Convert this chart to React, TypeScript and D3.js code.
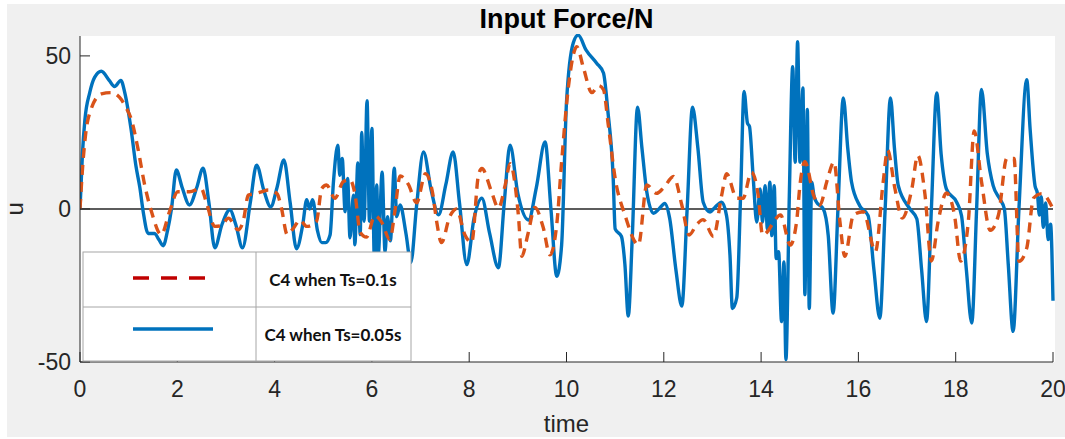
import React from "react";
import * as d3 from "d3";

const blueT = [0,0.05,0.1,0.2,0.3,0.44,0.6,0.71,0.84,0.92,1.05,1.15,1.23,1.3,1.4,1.53,1.62,1.71,1.8,1.88,1.98,2.1,2.25,2.4,2.53,2.65,2.77,2.92,3.08,3.2,3.34,3.5,3.63,3.78,3.92,4.05,4.19,4.32,4.45,4.58,4.66,4.72,4.78,4.88,4.97,5.05,5.14,5.21,5.3,5.34,5.39,5.45,5.5,5.55,5.62,5.65,5.71,5.76,5.79,5.84,5.9,5.95,6.0,6.05,6.1,6.13,6.21,6.27,6.32,6.38,6.46,6.51,6.58,6.7,6.8,6.92,7.06,7.22,7.37,7.52,7.67,7.8,7.95,8.1,8.26,8.42,8.6,8.72,8.84,9.0,9.22,9.38,9.56,9.68,9.8,9.9,10.0,10.14,10.24,10.4,10.62,10.76,10.85,10.96,11.0,11.13,11.2,11.27,11.35,11.46,11.55,11.65,11.79,11.9,12.02,12.12,12.25,12.37,12.48,12.59,12.7,12.81,12.95,13.05,13.19,13.29,13.36,13.41,13.5,13.58,13.65,13.72,13.76,13.84,13.91,13.98,14.03,14.08,14.13,14.18,14.22,14.27,14.31,14.36,14.42,14.47,14.51,14.58,14.65,14.7,14.75,14.8,14.86,14.9,14.95,14.99,15.04,15.09,15.14,15.28,15.38,15.48,15.58,15.69,15.78,15.86,16.03,16.2,16.32,16.44,16.55,16.66,16.74,16.82,17.06,17.2,17.3,17.4,17.5,17.61,17.7,17.81,18.02,18.12,18.22,18.33,18.43,18.53,18.65,18.77,18.91,19.0,19.08,19.18,19.3,19.46,19.53,19.63,19.68,19.72,19.76,19.8,19.85,19.9,19.95,20];
const blueU = [0,18,29,38,43,45,42,40,42,38,26,14,7,-1,-8,-8,-10,-12,-7,0,12.7,7,1.3,7,13.3,2,-12.7,-5,-0.3,-5,-12.7,2,14.3,6,0.7,7,16,2,-13,-5,3,0,3,-7,-11,-11,-8.5,8.9,20.8,11,16.5,-0.9,10,-9.4,4.5,-11.7,15,-8.4,25,-4,35.4,-4,26.3,-16,7.8,-15,12,-14,-2.5,-10.4,13.3,-2.5,1.3,-8,-17.5,1.3,18.6,6,-1.9,8,18.6,2,-18.2,-3,3.5,-8,-19.2,2,20.8,5,-3.6,7,21.9,0,-22,-11.7,34.8,54.3,56.8,52,47.6,44.4,32,10,-6.5,-9,-18,-35,-10,33.2,20,5.6,-1.4,0,1.8,-3,-20,-31.7,0,33.2,20,2.2,-1,0.5,2.2,-2.2,-15,-32.5,-29,5,38.4,28,27,9.7,-4.3,6.5,-4.3,7.6,-6.5,8.7,-8.7,7.6,-16.2,-14,-36.8,-17.3,-49.2,4.3,46.5,15.2,54.6,15.2,39.5,-28,32.5,-32.5,8.7,4,2.2,0,-8.7,-34,0,36.3,20,8.7,1,-2.2,-20,-35.7,0,36.3,20,7.6,0,-3.2,-20,-36.8,0,37.9,18,6.5,2.2,-2.2,-20,-37.3,0,39,18,7.6,3.2,0,-18,-40,0,42.2,26,7.6,5,-2,4,-6,2,-10,-5,-30];

const orangeT = [0,0.06,0.12,0.23,0.44,0.64,0.81,0.95,1.05,1.19,1.33,1.47,1.67,1.84,2.01,2.25,2.49,2.6,2.77,2.9,3.05,3.25,3.36,3.46,3.6,3.73,3.87,4.05,4.14,4.26,4.4,4.52,4.66,4.86,4.97,5.07,5.24,5.41,5.55,5.65,5.76,5.89,6.06,6.2,6.37,6.47,6.58,6.75,6.92,7.1,7.25,7.33,7.43,7.6,7.74,7.91,8.05,8.19,8.26,8.46,8.6,8.74,8.84,9.01,9.08,9.21,9.35,9.52,9.66,9.8,9.9,10.04,10.17,10.21,10.35,10.52,10.66,10.76,10.86,11.0,11.2,11.48,11.65,11.85,12.0,12.2,12.37,12.52,12.68,12.81,13.02,13.19,13.29,13.5,13.63,13.8,13.94,14.03,14.15,14.22,14.4,14.6,14.73,14.8,14.9,15.09,15.21,15.35,15.5,15.62,15.72,15.9,16.1,16.35,16.51,16.6,16.75,16.9,17.1,17.22,17.37,17.5,17.64,17.81,17.98,18.1,18.26,18.38,18.53,18.71,18.88,19.05,19.2,19.3,19.46,19.6,19.77,20];
const orangeU = [0,15,25,32.7,37.6,38,36.5,33,29.5,19.8,7.8,-0.9,-8.4,-0.9,5.6,5.6,6.7,2,-5.7,-5.5,-3,-6.8,-3.6,4.5,5,5.6,6.2,5,0.3,-8.4,-6,-3.6,-5.7,-4.1,6.7,7.8,3.5,8.9,9.5,5,-7.6,-9.2,-2.2,-4.3,-10,-1,10.8,8,2,11.5,5,-4,-11,-2.5,0,-8.4,-11,11,13.2,5.6,0.3,7.8,14.8,-1.9,-15.5,-8,0.5,-6,-15,-5,15.4,40,52,53,46,38,40.3,39,27.3,10,-1.9,-11.7,7.8,5.1,7,10.6,1.3,-8.5,-5,-3.5,-9,4.5,11.5,3.5,3.5,12,4.5,-8.5,-7,-5.2,-2,-11.8,-4.1,8,15.4,4,1.3,8.9,15.3,-4.1,-15.5,-1.9,-0.9,-13.9,8.9,19.2,6.7,-3,6.7,17.5,4.5,-17,-4,5.2,-2.5,-17,-4,25.5,9,-7,-1.9,16.5,16.5,-17.1,-12.8,3.5,5,0];

const xTicks = [0, 2, 4, 6, 8, 10, 12, 14, 16, 18, 20];
const yTicks = [-50, 0, 50];
const legendLabels = ["C4 when Ts=0.1s", "C4 when Ts=0.05s"];
const titleText = "Input Force/N";
const xLabel = "time";
const yLabel = "u";

export default function App() {
  const W = 1065, H = 439;
  const left = 80, right = 1053, top = 36, bottom = 362;
  const x = d3.scaleLinear().domain([0, 20]).range([left, right]);
  const y = d3.scaleLinear().domain([-50, 56.5]).range([bottom, top]);
  const mk = (ts: number[], us: number[]) =>
    d3.line<[number, number]>()
      .x(d => x(d[0])).y(d => y(d[1])).curve(d3.curveMonotoneX)(ts.map((t, i) => [t, us[i]] as [number, number])) || "";
  const bluePath = mk(blueT, blueU);
  const orangePath = mk(orangeT, orangeU);
  const axisColor = "#262626";
  const font = "'Liberation Sans', Arial, Helvetica, sans-serif";
  const lg = { x0: 83, x1: 411, xm: 256, y0: 252, ym: 307, y1: 361 };
  return (
    <svg width={W} height={H} style={{ position: "absolute", left: 0, top: 0 }}>
      <rect x={0} y={0} width={W} height={H} fill="#ffffff" />
      <rect x={7} y={4} width={W - 7} height={433} fill="#f0f0f0" />
      <rect x={left} y={top} width={1055 - left} height={bottom - top} fill="#ffffff" />
      <defs>
        <clipPath id="plotclip">
          <rect x={left} y={top - 2} width={right - left + 2} height={bottom - top + 4} />
        </clipPath>
      </defs>
      <line x1={left} x2={right} y1={y(0)} y2={y(0)} stroke="#262626" strokeWidth={1.5} />
      <g clipPath="url(#plotclip)">
        <path d={bluePath} fill="none" stroke="#0072BD" strokeWidth={3.4} strokeLinejoin="round" />
        <path d={orangePath} fill="none" stroke="#D95319" strokeWidth={3.4} strokeDasharray="10,7" />
      </g>
      <line x1={left} x2={left} y1={top} y2={bottom} stroke={axisColor} strokeWidth={1} />
      <line x1={left} x2={right} y1={bottom} y2={bottom} stroke={axisColor} strokeWidth={1} />
      {yTicks.map(v => (
        <g key={"y" + v}>
          <line x1={left} x2={left + 10} y1={y(v)} y2={y(v)} stroke={axisColor} />
          <text x={left - 9} y={y(v)} dy="0.36em" textAnchor="end" fontSize={23} fontFamily={font} fill={axisColor}>{v}</text>
        </g>
      ))}
      {xTicks.map(v => (
        <g key={"x" + v}>
          <line x1={x(v)} x2={x(v)} y1={bottom} y2={bottom - 10} stroke={axisColor} />
          <text x={x(v)} y={397} textAnchor="middle" fontSize={23} fontFamily={font} fill={axisColor}>{v}</text>
        </g>
      ))}
      <text x={(left + right) / 2} y={28} textAnchor="middle" fontSize={27} fontWeight="bold" fontFamily={font} fill="#000">{titleText}</text>
      <text x={(left + right) / 2} y={432} textAnchor="middle" fontSize={24} fontFamily={font} fill={axisColor}>{xLabel}</text>
      <text transform={`translate(23,${y(0)}) rotate(-90)`} textAnchor="middle" fontSize={24} fontFamily={font} fill={axisColor}>{yLabel}</text>
      <rect x={lg.x0} y={lg.y0} width={lg.x1 - lg.x0} height={lg.y1 - lg.y0} fill="#ffffff" stroke="#a6a6a6" strokeWidth={1} />
      <line x1={lg.xm} x2={lg.xm} y1={lg.y0} y2={lg.y1} stroke="#a6a6a6" />
      <line x1={lg.x0} x2={lg.x1} y1={lg.ym} y2={lg.ym} stroke="#a6a6a6" />
      <line x1={133} x2={210} y1={278} y2={278} stroke="#C00000" strokeWidth={3.5} strokeDasharray="16,12" />
      <line x1={133} x2={213} y1={329} y2={329} stroke="#0072BD" strokeWidth={3.5} />
      <text x={333} y={286} textAnchor="middle" fontSize={17} fontWeight="bold" fontFamily="Lato, 'Open Sans', sans-serif" fill="#111">{legendLabels[0]}</text>
      <text x={333} y={341} textAnchor="middle" fontSize={17} fontWeight="bold" fontFamily="Lato, 'Open Sans', sans-serif" fill="#111">{legendLabels[1]}</text>
    </svg>
  );
}
